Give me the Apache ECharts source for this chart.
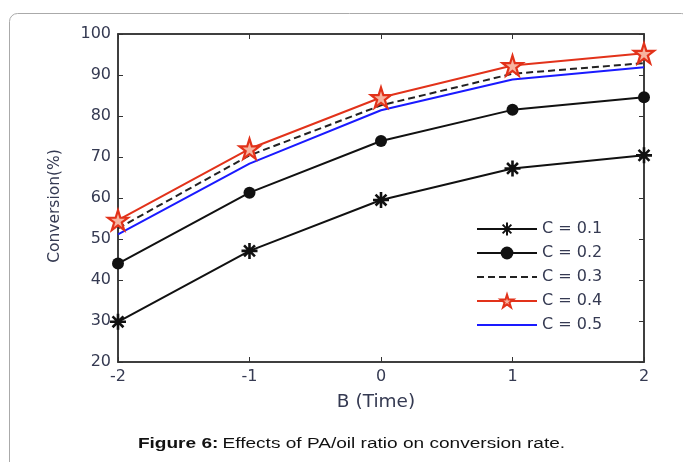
<!DOCTYPE html>
<html><head><meta charset="utf-8">
<script src="https://cdn.jsdelivr.net/npm/echarts@6/dist/echarts.min.js"></script>
<style>html,body{margin:0;padding:0;background:#fff}#c{width:683px;height:462px}</style>
</head><body><div id="c"></div>
<script>
const xValues = [-2, -1, 0, 1, 2];
const c01 = [29.8, 47.1, 59.5, 67.2, 70.4];
const c02 = [44.0, 61.3, 73.9, 81.5, 84.6];
const c03 = [52.6, 70.4, 82.6, 90.3, 92.9];
const c04 = [54.6, 72.0, 84.5, 92.3, 95.3];
const c05 = [51.1, 68.4, 81.4, 88.9, 91.9];
const seriesNames = ['C = 0.1', 'C = 0.2', 'C = 0.3', 'C = 0.4', 'C = 0.5'];
const xTicks = [-2, -1, 0, 1, 2];
const yTicks = [20, 30, 40, 50, 60, 70, 80, 90, 100];

const pair = arr => xValues.map((x, i) => [x, arr[i]]);
const asterisk = 'path://M0,5L10,5M5,0L5,10M1.6,1.6L8.4,8.4M8.4,1.6L1.6,8.4';
const star = 'path://M50,0L61.8,35.5L100,35.5L69.1,57.4L80.9,93L50,71L19.1,93L30.9,57.4L0,35.5L38.2,35.5Z';
const labelColor = '#353a52';
const axisColor = '#333';
const font = 'DejaVu Sans';
const noSym = {color: 'rgba(0,0,0,0)', borderColor: 'rgba(0,0,0,0)', borderWidth: 0};

const baseAxis = (extra) => Object.assign({
  axisLine: {show: true, onZero: false, lineStyle: {color: axisColor, width: 1.5}},
  axisTick: {show: true, inside: true, length: 5, lineStyle: {color: axisColor, width: 1}},
  splitLine: {show: false}
}, extra);

const chart = echarts.init(document.getElementById('c'));
chart.setOption({
  animation: false,
  backgroundColor: '#fff',
  graphic: [
    {type: 'rect', shape: {x: 9.5, y: 13.5, width: 680, height: 480, r: 8}, style: {fill: 'none', stroke: '#aaaaaa', lineWidth: 1}, z: -10},
    {type: 'text', x: 351.5, y: 444, scaleX: 1.23, scaleY: 1,
     style: {textAlign: 'center', textVerticalAlign: 'middle',
       rich: {b: {fontWeight: 'bold', fontSize: 15.5, fontFamily: 'Liberation Sans', fill: '#111'}, n: {fontSize: 15.5, fontFamily: 'Liberation Sans', fill: '#111'}},
       text: '{b|Figure 6:} {n|Effects of PA/oil ratio on conversion rate.}'}}
  ],
  grid: {left: 118, right: 39, top: 34, bottom: 100, containLabel: false, show: true, borderColor: axisColor, borderWidth: 1.5, backgroundColor: 'transparent'},
  legend: {
    orient: 'vertical', left: 476, top: 221, padding: 0, itemWidth: 60, itemHeight: 16, itemGap: 8,
    textStyle: {fontSize: 16, fontFamily: font, color: labelColor},
    data: [
      {name: seriesNames[0]},
      {name: seriesNames[1]},
      {name: seriesNames[2], itemStyle: noSym},
      {name: seriesNames[3]},
      {name: seriesNames[4], itemStyle: noSym}
    ]
  },
  xAxis: [
    baseAxis({
      type: 'value', min: -2, max: 2, interval: 1, position: 'bottom',
      name: 'B (Time)', nameLocation: 'middle', nameGap: 31,
      nameTextStyle: {fontSize: 18.5, fontFamily: font, color: labelColor, padding: [0, 10, 0, 0]},
      axisLabel: {fontSize: 16, fontFamily: font, color: labelColor, margin: 7, formatter: v => xTicks.includes(v) ? String(v) : ''}
    }),
    baseAxis({type: 'value', min: -2, max: 2, interval: 1, position: 'top', axisLabel: {show: false}})
  ],
  yAxis: [
    baseAxis({
      type: 'value', min: 20, max: 100, interval: 10, position: 'left',
      name: 'Conversion(%)', nameLocation: 'middle', nameGap: 55, nameRotate: 90,
      nameTextStyle: {fontSize: 15.5, fontFamily: font, color: labelColor, padding: [0, 16, 0, 0]},
      axisLabel: {fontSize: 16, fontFamily: font, color: labelColor, margin: 7, formatter: v => yTicks.includes(v) ? String(v) : ''}
    }),
    baseAxis({type: 'value', min: 20, max: 100, interval: 10, position: 'right', axisLabel: {show: false}})
  ],
  series: [
    {name: seriesNames[0], type: 'line', data: pair(c01), symbol: asterisk, symbolSize: 16,
     lineStyle: {color: '#111', width: 2}, itemStyle: {color: '#111', borderColor: '#111', borderWidth: 2.6}},
    {name: seriesNames[1], type: 'line', data: pair(c02), symbol: 'circle', symbolSize: 12,
     lineStyle: {color: '#111', width: 2}, itemStyle: {color: '#111'}},
    {name: seriesNames[2], type: 'line', data: pair(c03), symbol: 'none', showSymbol: false,
     lineStyle: {color: '#222', width: 2, type: [7, 4]}, itemStyle: {color: '#222'}},
    {name: seriesNames[3], type: 'line', data: pair(c04), symbol: star, symbolSize: 20,
     lineStyle: {color: '#e2321a', width: 2}, itemStyle: {color: '#f7b4a0', borderColor: '#e2321a', borderWidth: 2.2}},
    {name: seriesNames[4], type: 'line', data: pair(c05), symbol: 'none', showSymbol: false,
     lineStyle: {color: '#1a1aff', width: 2}, itemStyle: {color: '#1a1aff'}}
  ]
});
</script></body></html>
